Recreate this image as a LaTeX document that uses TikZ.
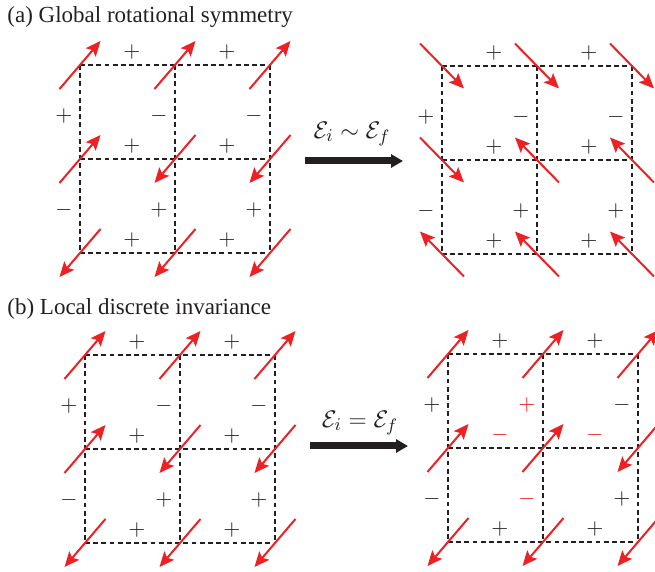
\documentclass[tikz,border=0pt]{standalone}
\usepackage[no-math]{fontspec}
\setmainfont{Liberation Serif}
\usetikzlibrary{arrows.meta,calc}
\definecolor{spinred}{RGB}{237,32,36}
\definecolor{inkblack}{RGB}{35,31,32}
\tikzset{
 spin/.style={draw=spinred, line width=1pt, -{Stealth[length=7.5pt,width=6.5pt,inset=1.5pt]}},
 gridline/.style={draw=inkblack, line width=0.6pt, dash pattern=on 2.4pt off 1.7pt},
 sgn/.style={inner sep=0pt, font=\fontsize{11}{13}\selectfont},
 bigarrow/.style={draw=inkblack, line width=3.5pt, -{Triangle[length=6pt,width=6.5pt]}},
 title/.style={anchor=base west, inner sep=0pt, font=\fontsize{11.5}{14}\selectfont, text=inkblack},
 mlabel/.style={inner sep=0pt, font=\fontsize{13}{15}\selectfont, text=inkblack},
}
% prefix, x0, y0  (cells 95 px wide, 94 px high)
\newcommand\mkvertices[3]{%
  \foreach \i in {0,1,2}{\foreach \j in {0,1,2}{\coordinate (#1-\i-\j) at ({#2+\i*95},{#3+\j*94});}}
  \foreach \k in {0,1,2}{\draw[gridline] (#1-0-\k) -- (#1-2-\k); \draw[gridline] (#1-\k-0) -- (#1-\k-2);}
}
% prefix, dx, dy, list i/j/s
\newcommand\spins[4]{%
  \foreach \i/\j/\s in {#4}{\draw[spin] ($(#1-\i-\j)+({-(\s)*(#2)/2},{(\s)*(#3)/2})$) -- ($(#1-\i-\j)+({(\s)*(#2)/2},{-(\s)*(#3)/2})$);}
}
% prefix, list i/j/sign/colour
\newcommand\hsigns[2]{%
  \foreach \i/\j/\t/\c in {#2}{\node[sgn, text=\c] (#1-h-\i-\j) at ($(#1-\i-\j)+(52,-13)$) {$\t$};}
}
\newcommand\vsigns[2]{%
  \foreach \i/\j/\t/\c in {#2}{\node[sgn, text=\c] (#1-v-\i-\j) at ($(#1-\i-\j)+(-16,51)$) {$\t$};}
}
\begin{document}
\begin{tikzpicture}[x=0.5pt,y=-0.5pt]
\useasboundingbox (0,0) rectangle (655,572);
% titles
\node[title] (ta) at (7,23) {(a) Global rotational symmetry};
\node[title] (tb) at (7,315) {(b) Local discrete invariance};
% ---------- (a) left
\mkvertices{al}{80}{65}
\spins{al}{41}{48}{0/0/1,1/0/1,2/0/1,0/1/1,1/1/-1,2/1/-1,0/2/-1,1/2/-1,2/2/-1}
\hsigns{al}{0/0/+/inkblack,1/0/+/inkblack,0/1/+/inkblack,1/1/+/inkblack,0/2/+/inkblack,1/2/+/inkblack}
\vsigns{al}{0/0/+/inkblack,1/0/-/inkblack,2/0/-/inkblack,0/1/-/inkblack,1/1/+/inkblack,2/1/+/inkblack}
% ---------- (a) right
\mkvertices{ar}{442}{66}
\spins{ar}{44}{-45}{0/0/1,1/0/1,2/0/1,0/1/1,1/1/-1,2/1/-1,0/2/-1,1/2/-1,2/2/-1}
\hsigns{ar}{0/0/+/inkblack,1/0/+/inkblack,0/1/+/inkblack,1/1/+/inkblack,0/2/+/inkblack,1/2/+/inkblack}
\vsigns{ar}{0/0/+/inkblack,1/0/-/inkblack,2/0/-/inkblack,0/1/-/inkblack,1/1/+/inkblack,2/1/+/inkblack}
% ---------- (a) arrow
\coordinate (aas) at (305,161);
\coordinate (aae) at (403,161);
\draw[bigarrow] (aas) -- (aae);
\node[mlabel] (aal) at (352,134) {$\mathcal{E}_i \sim \mathcal{E}_f$};
% ---------- (b) left
\mkvertices{bl}{85}{355}
\spins{bl}{41}{48}{0/0/1,1/0/1,2/0/1,0/1/1,1/1/-1,2/1/-1,0/2/-1,1/2/-1,2/2/-1}
\hsigns{bl}{0/0/+/inkblack,1/0/+/inkblack,0/1/+/inkblack,1/1/+/inkblack,0/2/+/inkblack,1/2/+/inkblack}
\vsigns{bl}{0/0/+/inkblack,1/0/-/inkblack,2/0/-/inkblack,0/1/-/inkblack,1/1/+/inkblack,2/1/+/inkblack}
% ---------- (b) right
\mkvertices{br}{448}{354}
\spins{br}{41}{48}{0/0/1,1/0/1,2/0/1,0/1/1,1/1/1,2/1/-1,0/2/-1,1/2/-1,2/2/-1}
\hsigns{br}{0/0/+/inkblack,1/0/+/inkblack,0/1/-/spinred,1/1/-/spinred,0/2/+/inkblack,1/2/+/inkblack}
\vsigns{br}{0/0/+/inkblack,1/0/+/spinred,2/0/-/inkblack,0/1/-/inkblack,1/1/-/spinred,2/1/+/inkblack}
% ---------- (b) arrow
\coordinate (bas) at (310,446);
\coordinate (bae) at (408,446);
\draw[bigarrow] (bas) -- (bae);
\node[mlabel] (bal) at (360,423) {$\mathcal{E}_i = \mathcal{E}_f$};
\end{tikzpicture}
\end{document}
